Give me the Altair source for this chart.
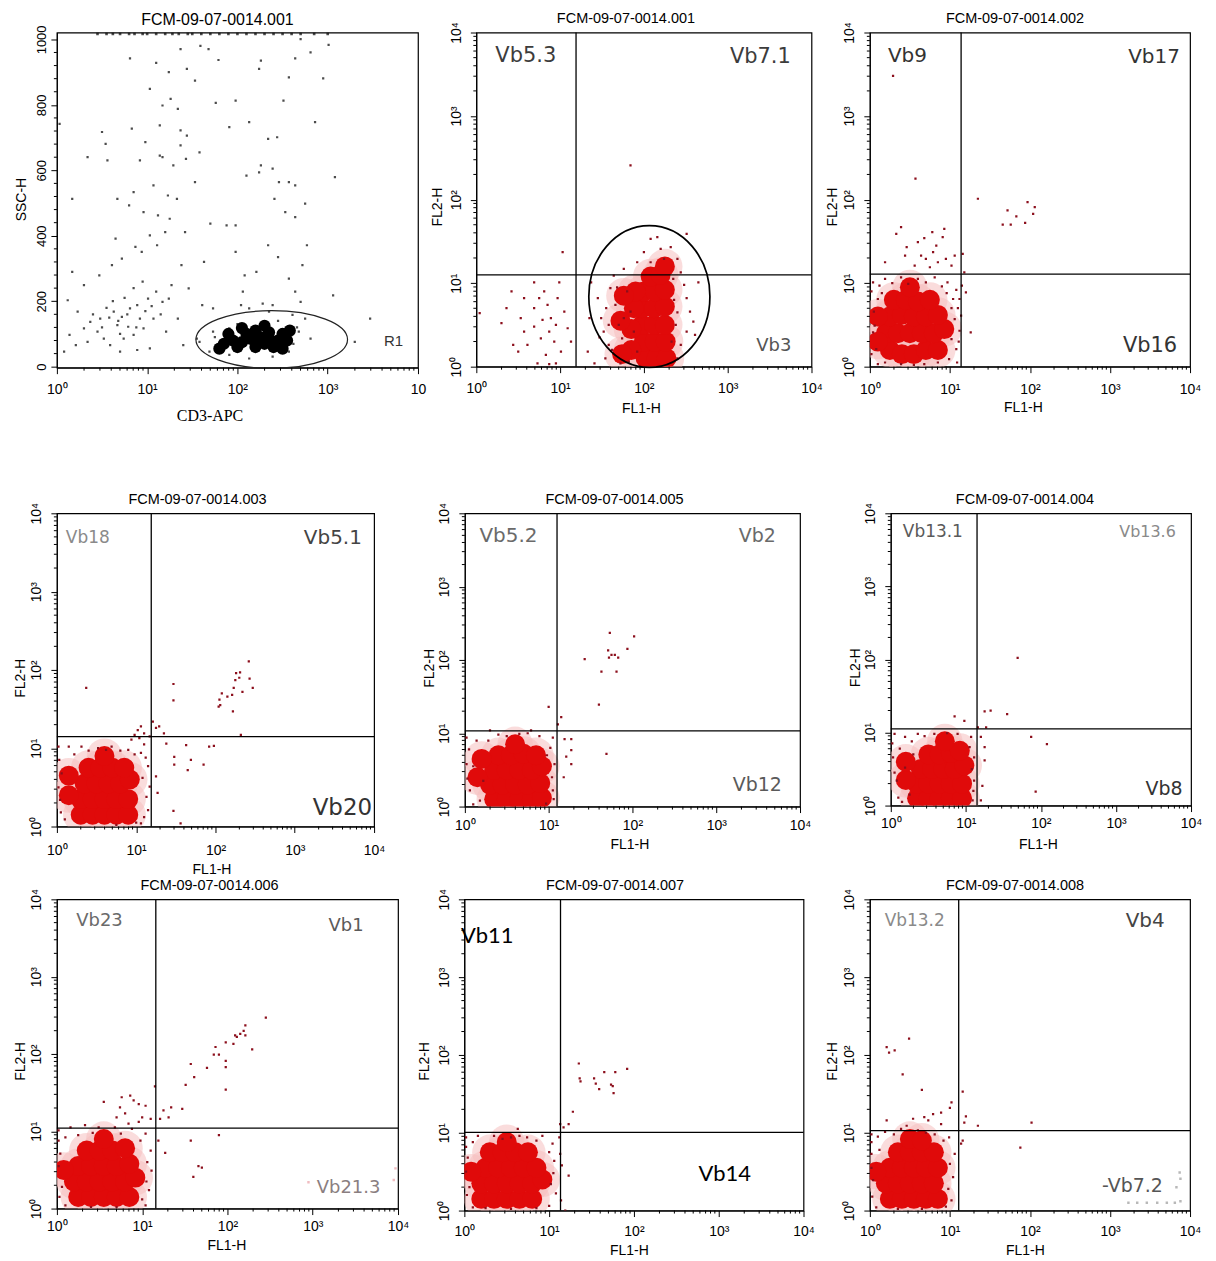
import altair as alt
import pandas as pd

# ------------------------------------------------------------------
# Data.  FL1-H / FL2-H / CD3-APC values are given
# as log10 decades (0 = 10^0 ... 4 = 10^4); SSC-H is linear.
# ------------------------------------------------------------------
TITLES = ["FCM-09-07-0014.001", "FCM-09-07-0014.001", "FCM-09-07-0014.002",
          "FCM-09-07-0014.003", "FCM-09-07-0014.005", "FCM-09-07-0014.004",
          "FCM-09-07-0014.006", "FCM-09-07-0014.007", "FCM-09-07-0014.008"]

# panel 1: (log10 CD3-APC, SSC-H)
P1_DOTS = [(1.68,970),(1.59,980),(1.37,970),(0.81,942),(1.10,928),(1.24,900),(1.44,910),(1.79,937),
           (2.26,935),(2.64,942),(2.81,960),(3.01,983),(2.70,1001),(2.95,881),(2.57,884),(2.24,910),
           (1.53,874),(1.03,849),(1.26,818),(1.17,798),(1.34,788),(1.76,806),(1.98,813),(2.51,813),
           (2.13,747),(1.91,732),(0.83,727),(0.50,717),(0.03,742),(0.54,681),(0.98,686),(1.14,737),
           (1.37,722),(1.44,706),(1.37,676),(1.14,645),(1.17,640),(1.29,615),(1.43,635),(0.92,630),
           (0.56,630),(0.34,640),(1.58,655),(2.26,615),(2.39,605),(2.10,584),(2.24,594),(2.46,564),
           (2.57,564),(2.64,554),(3.08,579),(1.53,564),(1.33,513),(1.23,523),(1.07,554),(0.85,533),
           (0.80,493),(0.67,513),(0.17,513),(0.96,472),(1.12,462),(1.25,452),(1.20,411),(1.03,401),
           (1.11,371),(0.94,351),(0.87,366),(0.72,330),(0.65,391),(0.61,310),(0.47,279),(0.30,249),
           (0.17,290),(0.12,203),(0.23,168),(0.37,137),(0.48,147),(0.63,168),(0.72,152),(0.81,178),
           (0.89,188),(1.01,208),(1.10,229),(1.17,198),(1.24,208),(1.07,147),(0.96,117),(0.85,97),
           (0.74,86),(0.59,66),(0.45,107),(0.30,117),(0.14,97),(0.08,46),(0.21,66),(0.34,76),
           (0.52,86),(0.67,127),(0.79,122),(0.92,147),(1.03,56),(0.70,46),(0.89,51),(1.21,107),
           (1.34,147),(1.40,66),(1.38,310),(1.27,249),(1.46,239),(1.61,188),(1.63,320),(1.73,178),
           (1.98,351),(2.08,279),(2.06,229),(2.21,290),(2.34,371),(2.45,335),(2.57,269),(2.72,310),
           (2.77,371),(2.64,229),(2.70,198),(3.06,218),(3.47,147),(3.30,76),(2.53,472),(2.41,513),
           (2.75,498),(2.64,457),(1.98,432),(1.88,432),(1.70,437),(1.42,411),(2.34,696),(2.44,701),
           (2.86,747),(0.55,180),(0.62,200),(0.75,210),(0.85,240),(0.95,260),(0.40,160),(0.58,150),
           (0.68,140),(0.78,160),(0.98,170),(1.05,185),(0.88,120),(0.50,120),(0.70,100),(1.15,160),
           (1.58,76),(1.69,46),(1.91,36),(2.13,25),(2.39,31),(2.57,46),(2.81,86),(2.75,147),
           (2.61,158),(2.35,168),(2.13,178),(1.91,117),(1.73,107),(1.55,86),(2.68,107),(2.39,188),
           (2.28,193),(2.04,188),(1.80,60),(1.75,90),(2.62,70),(2.66,120),(2.00,130),(2.45,140)]
P1_TOP = [0.45,0.55,0.62,0.70,0.80,0.86,0.95,1.00,1.10,1.20,1.28,1.35,1.45,1.50,1.60,1.70,
          1.80,1.90,2.00,2.10,2.20,2.30,2.40,2.50,2.60,2.70,2.85,3.00]
P1_CORE = [(1.85,70),(1.95,80),(2.05,75),(2.15,85),(2.25,90),(2.35,85),(2.45,80),(2.20,60),
           (2.35,105),(2.10,100),(2.50,100),(2.30,70),(2.00,60),(2.40,60),(2.55,80),(2.20,110),
           (1.90,100),(2.58,110),(2.05,118),(1.80,55),(2.50,55),(2.30,125)]
P1_GATE = (2.38, 83)            # R1 ellipse centre
P1_LABELS = [("R1", 3.73, 79)]

# panels 2-9: (log10 FL1-H, log10 FL2-H)
P2_CORE = [(2.02,0.1),(2.15,0.1),(2.27,0.1),(2.0,0.3),(2.13,0.3),(2.26,0.3),(1.98,0.5),(2.12,0.5),
           (2.25,0.5),(1.98,0.7),(2.12,0.7),(2.25,0.72),(2.0,0.9),(2.13,0.9),(2.25,0.92),(2.08,1.08),
           (2.2,1.1),(2.25,1.2),(1.85,0.2),(1.85,0.45),(1.88,0.7),(1.9,0.9),(1.74,0.15),(1.72,0.55),
           (1.76,0.85)]
P2_DOTS = [(0.36,0.70),(0.53,0.58),(0.57,0.42),(0.69,1.01),(0.75,0.82),(0.81,0.90),(0.85,0.74),
           (0.89,0.58),(0.97,0.82),(0.99,1.01),(1.05,0.66),(1.09,0.46),(0.77,0.34),(0.61,0.26),
           (0.50,0.18),(0.93,0.30),(0.83,0.14),(0.30,0.52),(0.44,0.26),(0.69,0.48),(0.79,0.56),
           (0.87,0.42),(0.95,0.50),(1.01,0.18),(1.13,0.30),(0.57,0.82),(0.42,0.90),(1.03,1.37),
           (0.04,0.64),(0.73,0.04),(0.87,0.03),(0.95,0.04),(0.69,0.70),(1.84,2.41),
           (1.37,1.01),(1.45,0.82),(1.49,0.58),(1.52,0.42),(1.58,0.26),(1.60,0.94),(1.66,0.74),
           (1.70,0.50),(1.74,0.34),(1.64,1.09),(1.76,1.17),(1.80,0.90),(1.84,0.66),(1.88,0.42),
           (1.92,0.18),(1.82,0.06),(1.54,0.10),(1.35,0.58),(1.33,0.18),(1.41,0.04),(1.72,0.04),
           (1.76,0.58),(1.92,1.25),(2.00,1.37),(2.08,1.53),(2.16,1.55),(2.20,1.41),(2.32,1.43),
           (2.40,1.29),(2.44,1.13),(2.51,1.59),(2.08,1.25),(2.24,1.29),(2.48,0.98),(2.51,0.82),
           (2.55,0.66),(2.59,0.54),(2.51,0.42),(2.44,0.26),(2.40,0.10),(2.65,1.01),(2.61,0.38),
           (1.55,0.70),(1.62,0.20),(1.47,0.35),(1.68,0.95),(1.58,0.50),(2.36,0.80),(2.38,0.50),
           (2.35,1.05),(2.40,0.65),(2.33,0.30)]
P2_GATE = (1.19, 1.10)
P2_CIRCLE = (2.065, 0.84)
P2_LABELS = [("Vb5.3", 0.59, 3.72), ("Vb7.1", 3.39, 3.71), ("Vb3", 3.55, 0.25)]

P3_CORE = [(0.25,0.2),(0.4,0.15),(0.55,0.15),(0.7,0.2),(0.85,0.2),(0.2,0.4),(0.35,0.4),(0.5,0.4),
           (0.65,0.4),(0.8,0.4),(0.93,0.45),(0.25,0.6),(0.4,0.62),(0.55,0.6),(0.7,0.6),(0.85,0.62),
           (0.3,0.8),(0.45,0.8),(0.6,0.78),(0.75,0.8),(0.5,0.95),(0.1,0.3),(0.1,0.6)]
P3_DOTS = [(0.29,3.48),(0.57,2.25),(1.35,2.01),(1.66,1.70),(1.76,1.70),(1.83,1.80),(1.72,1.87),
           (1.97,1.97),(1.94,1.72),(2.06,1.91),(2.04,1.83),(0.33,1.59),(0.39,1.67),(0.19,1.25),
           (0.46,1.43),(0.44,1.33),(0.60,1.49),(0.68,1.54),(0.78,1.61),(0.91,1.55),(0.93,1.65),
           (0.64,1.33),(0.70,1.29),(0.79,1.37),(0.85,1.25),(0.95,1.29),(1.02,1.21),(1.06,1.33),
           (0.83,1.45),(0.56,1.21),(0.75,1.19),(1.16,1.35),(1.18,1.13),(1.20,0.89),(1.26,0.41),
           (1.12,0.43),(1.14,0.61),(1.12,0.81),(1.15,0.97),(1.08,0.21),(0.04,1.01),(0.10,0.81),
           (0.06,0.49),(0.08,0.21),(0.19,1.05),(0.39,1.07),(0.60,1.05),(0.81,1.07),(0.97,1.01),
           (1.04,0.81),(1.06,0.57),(1.02,0.33),(0.99,0.09),(0.85,0.05),(0.68,0.03),(0.39,0.03),
           (0.19,0.05),(0.10,0.03),(0.04,0.41),(0.02,0.90),(0.12,0.97),(0.28,1.00),(0.48,0.99),
           (0.70,1.01),(0.90,0.96),(1.08,0.92),(1.10,0.70),(1.11,0.30),(1.09,0.05),(0.55,0.02),
           (0.02,0.15),(0.05,0.66),(0.15,0.88),(0.96,0.88),(1.02,0.70)]
P3_GATE = (1.14, 1.107)
P3_LABELS = [("Vb9", 0.47, 3.72), ("Vb17", 3.55, 3.71), ("Vb16", 3.50, 0.25)]

P4_CORE = [(0.3,0.15),(0.45,0.15),(0.6,0.15),(0.75,0.15),(0.9,0.15),(0.3,0.35),(0.45,0.35),(0.6,0.35),
           (0.75,0.35),(0.9,0.35),(0.35,0.55),(0.5,0.55),(0.65,0.55),(0.8,0.55),(0.92,0.6),(0.4,0.75),
           (0.55,0.75),(0.7,0.75),(0.85,0.75),(0.6,0.9),(0.15,0.4),(0.15,0.65)]
P4_DOTS = [(0.37,1.77),(1.47,1.82),(1.47,1.61),(1.21,1.34),(1.25,1.26),(1.29,1.28),(1.35,1.19),
           (1.38,1.06),(1.48,0.89),(1.48,0.79),(1.63,1.04),(1.65,0.72),(1.69,0.85),(1.85,0.79),
           (1.92,1.02),(1.98,1.03),(1.47,0.20),(1.56,0.04),(1.27,0.43),(1.25,0.64),(2.05,1.62),
           (2.08,1.70),(2.15,1.66),(2.21,1.68),(2.23,1.77),(2.25,1.87),(2.26,1.96),(2.30,1.90),
           (2.31,1.97),(2.34,1.72),(2.42,2.11),(2.43,1.89),(2.47,1.77),(2.22,1.47),(2.32,1.17),
           (2.06,1.55),(2.04,1.53),(0.98,1.17),(1.02,1.23),(1.06,1.28),(1.10,1.19),(1.17,1.15),
           (1.04,1.13),(0.94,1.11),(0.02,1.02),(0.15,1.02),(0.31,1.02),(0.52,1.00),(0.69,1.02),
           (0.90,0.98),(1.06,0.94),(1.15,0.77),(1.17,0.51),(1.15,0.21),(1.06,0.04),(0.06,0.68),
           (0.04,0.34),(0.10,0.09),(1.10,1.05),(1.12,0.88),(1.08,0.62),(1.13,0.38),(1.10,0.12),
           (0.98,0.92),(0.22,0.92),(0.40,0.97),(0.62,0.98),(0.80,0.97),(0.03,0.85),(0.02,0.50),
           (0.05,0.18),(1.00,0.05),(0.75,0.02)]
P4_GATE = (1.19, 1.149)
P4_LABELS = [("Vb18", 0.39, 3.69), ("Vb5.1", 3.48, 3.68), ("Vb20", 3.60, 0.23)]

P5_CORE = [(0.35,0.1),(0.5,0.1),(0.65,0.1),(0.8,0.1),(0.92,0.12),(0.3,0.3),(0.45,0.3),(0.6,0.3),
           (0.75,0.3),(0.9,0.32),(0.35,0.5),(0.5,0.5),(0.65,0.5),(0.8,0.5),(0.92,0.55),(0.4,0.7),
           (0.55,0.7),(0.7,0.72),(0.85,0.7),(0.6,0.85),(0.15,0.4),(0.2,0.65)]
P5_DOTS = [(1.73,2.37),(2.02,2.32),(1.43,2.01),(1.71,2.13),(1.75,2.07),(1.79,2.07),(1.83,2.03),
           (1.72,2.03),(1.94,2.15),(1.63,1.84),(1.81,1.84),(1.60,1.39),(1.00,1.36),(1.15,1.22),
           (1.11,1.12),(1.19,0.92),(1.27,0.92),(1.27,0.77),(1.27,0.58),(1.18,0.40),(1.21,0.68),
           (1.69,0.72),(0.30,1.04),(0.79,1.04),(0.02,0.94),(0.14,0.90),(0.02,0.58),(0.06,0.22),
           (0.18,0.08),(1.05,0.94),(1.07,0.58),(1.05,0.22),(0.97,0.04),(0.50,0.96),(0.65,0.99),
           (0.89,0.96),(0.22,0.35),(1.02,0.80),(1.04,0.40),(1.06,0.10),(0.40,0.98),(0.75,1.00),
           (0.05,0.78),(0.03,0.38),(0.10,0.03),(0.98,0.70),(0.28,0.90),(0.10,0.55)]
P5_GATE = (1.10, 1.033)
P5_LABELS = [("Vb5.2", 0.52, 3.69), ("Vb2", 3.49, 3.69), ("Vb12", 3.49, 0.29)]

P6_CORE = [(0.35,0.1),(0.5,0.1),(0.65,0.1),(0.8,0.1),(0.95,0.1),(0.35,0.3),(0.5,0.3),(0.65,0.3),
           (0.8,0.3),(0.95,0.3),(0.4,0.5),(0.55,0.5),(0.7,0.5),(0.85,0.5),(0.98,0.55),(0.5,0.7),
           (0.65,0.7),(0.8,0.72),(0.92,0.75),(0.72,0.88),(0.2,0.35),(0.2,0.6)]
P6_DOTS = [(1.69,2.02),(1.25,1.29),(1.33,1.30),(1.55,1.25),(0.85,1.22),(0.98,1.16),(1.27,1.07),
           (1.16,1.07),(1.87,0.94),(2.08,0.84),(1.93,0.19),(1.20,0.94),(1.25,0.80),(1.25,0.62),
           (1.22,0.27),(1.20,0.07),(0.05,0.98),(0.19,0.94),(0.36,0.98),(0.58,0.98),(0.89,0.98),
           (1.07,0.94),(1.11,0.66),(1.11,0.34),(1.09,0.07),(0.03,0.66),(0.08,0.34),(0.10,0.11),
           (0.19,0.52),(0.02,0.85),(0.12,0.78),(0.28,0.88),(0.45,0.95),(0.75,0.99),(1.05,0.80),
           (1.08,0.50),(1.10,0.20),(0.15,0.05),(0.25,0.15),(0.05,0.45),(0.30,0.70)]
P6_GATE = (1.149, 1.05)
P6_LABELS = [("Vb13.1", 0.56, 3.75), ("Vb13.6", 3.42, 3.75), ("Vb8", 3.64, 0.23)]

P7_CORE = [(0.25,0.15),(0.4,0.15),(0.55,0.15),(0.7,0.15),(0.85,0.15),(0.2,0.35),(0.35,0.35),(0.5,0.35),
           (0.65,0.35),(0.8,0.35),(0.92,0.4),(0.25,0.55),(0.4,0.55),(0.55,0.55),(0.7,0.55),(0.85,0.58),
           (0.35,0.75),(0.5,0.75),(0.65,0.75),(0.8,0.78),(0.55,0.9),(0.08,0.5)]
P7_DOTS = [(2.45,2.47),(2.21,2.37),(2.19,2.30),(2.15,2.26),(2.09,2.24),(2.07,2.13),(2.11,2.22),
           (2.29,2.06),(2.21,2.24),(1.98,2.15),(1.86,2.09),(1.84,1.99),(1.90,1.99),(1.98,1.91),
           (1.98,1.83),(1.76,1.82),(1.57,1.87),(1.61,1.70),(1.51,1.60),(1.98,1.54),(1.47,1.29),
           (1.34,1.31),(1.25,1.27),(1.15,1.58),(1.31,1.18),(1.21,1.16),(0.55,1.38),(0.74,1.31),
           (0.76,1.44),(0.86,1.46),(0.90,1.40),(0.96,1.35),(1.04,1.33),(0.80,1.23),(0.70,1.18),
           (1.00,1.18),(1.10,1.16),(0.96,1.12),(0.84,1.10),(1.57,0.88),(1.90,0.95),(1.27,0.72),
           (1.60,0.41),(1.66,0.55),(1.70,0.53),(1.19,0.88),(0.02,1.01),(0.16,1.05),(0.33,1.08),
           (0.49,1.05),(0.68,1.05),(0.88,1.03),(1.04,0.97),(1.10,0.75),(1.11,0.49),(1.08,0.24),
           (1.04,0.04),(0.04,0.71),(0.06,0.28),(0.10,0.04),(0.02,0.88),(0.10,0.92),(0.25,0.95),
           (0.42,0.98),(0.75,0.97),(0.98,0.88),(1.06,0.60),(1.05,0.35),(1.00,0.12),(0.70,0.02),
           (0.40,0.02),(0.03,0.15),(0.02,0.55)]
P7_FAINT = [(2.95,0.34),(3.95,0.37),(3.97,0.52)]
P7_GATE = (1.16, 1.04)
P7_LABELS = [("Vb23", 0.50, 3.72), ("Vb1", 3.39, 3.65), ("Vb21.3", 3.42, 0.27)]

P8_CORE = [(0.2,0.15),(0.35,0.15),(0.5,0.15),(0.65,0.15),(0.8,0.15),(0.2,0.35),(0.35,0.35),(0.5,0.35),
           (0.65,0.35),(0.8,0.35),(0.92,0.4),(0.25,0.55),(0.4,0.55),(0.55,0.55),(0.7,0.55),(0.85,0.55),
           (0.3,0.75),(0.45,0.75),(0.6,0.75),(0.75,0.75),(0.5,0.88),(0.08,0.5)]
P8_DOTS = [(1.35,1.89),(1.36,1.70),(1.37,1.66),(1.53,1.70),(1.55,1.63),(1.59,1.56),(1.65,1.78),
           (1.73,1.62),(1.75,1.60),(1.78,1.78),(1.76,1.51),(1.92,1.82),(1.28,1.27),(1.23,1.11),
           (1.13,1.11),(1.17,1.07),(0.63,1.05),(1.15,0.58),(1.23,0.45),(1.19,0.0),(0.02,0.94),
           (0.16,0.96),(0.35,0.96),(0.55,0.94),(0.74,0.94),(0.92,0.96),(1.04,0.86),(1.06,0.64),
           (1.02,0.34),(1.00,0.06),(0.04,0.68),(0.06,0.30),(0.10,0.04),(1.12,0.94),(1.13,0.73),
           (1.14,0.13),(0.02,0.82),(0.10,0.88),(0.45,0.92),(0.65,0.96),(0.85,0.90),(1.00,0.75),
           (1.05,0.48),(1.08,0.22),(0.85,0.03),(0.55,0.02),(0.25,0.03),(0.03,0.20),(0.02,0.50)]
P8_GATE = (1.134, 1.005)
P8_LABELS = [("Vb11", 0.27, 3.53), ("Vb14", 3.07, 0.47)]

P9_CORE = [(0.25,0.15),(0.4,0.15),(0.55,0.15),(0.7,0.15),(0.85,0.15),(0.2,0.35),(0.35,0.35),(0.5,0.35),
           (0.65,0.35),(0.8,0.35),(0.25,0.55),(0.4,0.55),(0.55,0.55),(0.7,0.55),(0.85,0.55),(0.35,0.75),
           (0.5,0.75),(0.65,0.75),(0.8,0.75),(0.5,0.92),(0.65,0.9),(0.08,0.5)]
P9_DOTS = [(0.49,2.21),(0.21,2.10),(0.24,2.03),(0.31,2.06),(0.41,1.75),(0.65,1.55),(1.16,1.53),
           (1.02,1.39),(1.00,1.32),(0.89,1.26),(0.79,1.24),(0.68,1.20),(0.54,1.18),(0.21,1.16),
           (1.20,1.21),(1.35,1.09),(1.18,1.13),(2.02,1.13),(1.88,0.81),(1.14,0.86),(1.16,0.90),
           (0.46,1.09),(0.73,1.16),(0.89,1.11),(0.02,0.98),(0.19,1.01),(0.39,1.05),(0.60,1.03),
           (0.81,0.98),(0.99,0.94),(1.06,0.73),(1.04,0.43),(1.02,0.13),(0.02,0.73),(0.04,0.39),
           (0.08,0.04),(0.02,0.88),(0.10,0.95),(0.30,0.98),(0.70,1.00),(0.92,0.90),(1.00,0.60),
           (0.98,0.28),(0.95,0.05),(0.65,0.02),(0.35,0.02),(0.03,0.18),(0.02,0.55),(0.12,0.78)]
P9_FAINT = [(3.87,0.49),(3.88,0.41),(3.83,0.30),(3.88,0.12),(3.23,0.10),(3.34,0.10),(3.46,0.10),
            (3.59,0.10),(3.71,0.10),(3.81,0.10)]
P9_GATE = (1.11, 1.027)
P9_LABELS = [("Vb13.2", 0.56, 3.72), ("Vb4", 3.44, 3.72), ("-Vb7.2", 3.28, 0.32)]

# axis tick positions
LOG_MAJOR = [1, 10, 100, 1000, 10000]
LOG_MINOR = [m * 10 ** k for k in range(4) for m in range(2, 10)]
SSC_MAJOR = [0, 200, 400, 600, 800, 1000]
SSC_MINOR = [v for v in range(40, 1000, 40) if v % 200]

# ------------------------------------------------------------------
# styles
# ------------------------------------------------------------------
SANS = "Liberation Sans"
LAB = "DejaVu Sans"
HALO = "#f5c0c0"
CORE = "#e00a0a"
DOT = "#8c0f1c"

SUP = ("datum.value == 1 ? '10\u2070' : datum.value == 10 ? '10\u00b9' : "
       "datum.value == 100 ? '10\u00b2' : datum.value == 1000 ? '10\u00b3' : '10\u2074'")
SUP_P1 = SUP.replace("'10\u2074'", "'10'")

LABEL_STYLE = {
    1: [dict(fontSize=15, color="#333333", font=SANS)],
    2: [dict(fontSize=21, color="#3c3c3c"), dict(fontSize=21, color="#3c3c3c"), dict(fontSize=18, color="#555555")],
    3: [dict(fontSize=20, color="#333333"), dict(fontSize=20, color="#333333"), dict(fontSize=21, color="#333333")],
    4: [dict(fontSize=17, color="#8a8a8a"), dict(fontSize=20, color="#444444"), dict(fontSize=23, color="#333333")],
    5: [dict(fontSize=20, color="#6a6a6a"), dict(fontSize=19, color="#6a6a6a"), dict(fontSize=19, color="#5a5a5a")],
    6: [dict(fontSize=17, color="#5a5a5a"), dict(fontSize=16, color="#8a8a8a"), dict(fontSize=19, color="#333333")],
    7: [dict(fontSize=18, color="#6a6a6a"), dict(fontSize=18, color="#5a5a5a"), dict(fontSize=18, color="#8a7e80")],
    8: [dict(fontSize=22, color="#000000", font="Lato"), dict(fontSize=22, color="#000000", font="Lato")],
    9: [dict(fontSize=17, color="#8a8a8a"), dict(fontSize=20, color="#444444"), dict(fontSize=19, color="#555555")],
}


def ellipse_path(rx, ry):
    k = 0.5523
    return (f"M{-rx},0C{-rx},{-k*ry},{-k*rx},{-ry},0,{-ry}"
            f"C{k*rx},{-ry},{rx},{-k*ry},{rx},0"
            f"C{rx},{k*ry},{k*rx},{ry},0,{ry}"
            f"C{-k*rx},{ry},{-rx},{k*ry},{-rx},0Z")


def pairs_df(pairs, ylog=True):
    return pd.DataFrame({"x": [10 ** a for a, b in pairs],
                         "y": [10 ** b if ylog else b for a, b in pairs]})


class Panel:
    """Shared scales and axes of one panel; every layer gets the same axis spec."""

    def __init__(self, xs, ys, xa, ya):
        self.xs, self.ys, self.xa, self.ya = xs, ys, xa, ya

    def X(self, field="x:Q"):
        return alt.X(field, scale=self.xs, axis=self.xa)

    def Y(self, field="y:Q"):
        return alt.Y(field, scale=self.ys, axis=self.ya)


def text_layers(P, n, labels, ylog=True):
    out = []
    for (t, a, b), st in zip(labels, LABEL_STYLE[n]):
        df = pd.DataFrame({"x": [10 ** a], "y": [10 ** b if ylog else b], "t": [t]})
        out.append(alt.Chart(df).mark_text(font=st.get("font", LAB), fontSize=st["fontSize"],
                                           color=st["color"], align="center", baseline="middle")
                   .encode(x=P.X(), y=P.Y(), text="t:N"))
    return out


def minor_ticks(P, xvals, yvals, h):
    xdf = pd.DataFrame({"v": xvals})
    ydf = pd.DataFrame({"v": yvals})
    return [
        alt.Chart(xdf).mark_rule(color="black", strokeWidth=1)
        .encode(x=P.X("v:Q"), y=alt.value(h), y2=alt.value(h + 3)),
        alt.Chart(ydf).mark_rule(color="black", strokeWidth=1)
        .encode(y=P.Y("v:Q"), x=alt.value(0), x2=alt.value(-3)),
    ]


def x_axis(label_pad, title, title_x, title_y, expr=SUP, title_font=SANS, title_size=14):
    return alt.Axis(values=LOG_MAJOR, labelExpr=expr, tickSize=6, labelFont=SANS,
                    labelFontSize=14, labelColor="black", labelPadding=label_pad, labelFlush=False,
                    labelOverlap=False, labelBaseline="middle", grid=False, domainColor="black",
                    tickColor="black", title=title, titleFont=title_font, titleFontSize=title_size,
                    titleFontWeight="normal", titleColor="black", titleX=title_x, titleY=title_y,
                    titleBaseline="middle", titleAlign="center")


def y_axis(values, expr, label_pad, title, title_x, title_y, label_size=14):
    return alt.Axis(values=values, labelExpr=expr, tickSize=6, labelFont=SANS, labelFontSize=label_size,
                    labelColor="black", labelPadding=label_pad, labelFlush=False, labelOverlap=False,
                    labelAngle=270, labelAlign="center", labelBaseline="middle", grid=False,
                    domainColor="black", tickColor="black", title=title, titleFont=SANS,
                    titleFontSize=14, titleFontWeight="normal", titleColor="black", titleAngle=270,
                    titleX=title_x, titleY=title_y, titleBaseline="middle", titleAlign="center")


def title_params(text, dx, size=14.5, offset=-5):
    return alt.TitleParams(text=text, font=SANS, fontSize=size, fontWeight="normal", color="black",
                           anchor="middle", frame="group", dx=dx, offset=offset)


def log_panel(n, w, h, core, dots, gate, labels, geo, faint=None, faint_color="#e9a0a6", circle=None):
    xlab_pad, xtitle_dx, xtitle_y, ytitle_x, ytitle_dy, title_dx = geo
    xs = alt.Scale(type="log", domain=[1, 10000], nice=False)
    ys = alt.Scale(type="log", domain=[1, 10000], nice=False)
    P = Panel(xs, ys, x_axis(xlab_pad, "FL1-H", w / 2 + xtitle_dx, xtitle_y),
              y_axis(LOG_MAJOR, SUP, 14, "FL2-H", ytitle_x, h / 2 + ytitle_dy))
    cdf = pairs_df(core)
    layers = [
        alt.Chart(cdf).mark_circle(size=1250, color=HALO, opacity=0.55, clip=True).encode(x=P.X(), y=P.Y()),
        alt.Chart(cdf).mark_circle(size=400, color=CORE, opacity=1, clip=True).encode(x=P.X(), y=P.Y()),
        alt.Chart(pairs_df(dots)).mark_square(size=5, color=DOT, opacity=1, clip=True)
        .encode(x=P.X(), y=P.Y()),
    ]
    if faint:
        layers.append(alt.Chart(pairs_df(faint)).mark_square(size=6, color=faint_color, clip=True)
                      .encode(x=P.X(), y=P.Y()))
    vdf = pd.DataFrame({"x": [10 ** gate[0]], "y": [1], "y2": [10000]})
    hdf = pd.DataFrame({"y": [10 ** gate[1]], "x": [1], "x2": [10000]})
    layers.append(alt.Chart(vdf).mark_rule(color="black", strokeWidth=1.3)
                  .encode(x=P.X(), y=P.Y(), y2="y2:Q"))
    layers.append(alt.Chart(hdf).mark_rule(color="black", strokeWidth=1.3)
                  .encode(y=P.Y(), x=P.X(), x2="x2:Q"))
    if circle:
        layers.append(alt.Chart(pairs_df([circle])).mark_point(
            shape=ellipse_path(0.855, 1.0), size=142 ** 2, filled=False, color="black",
            strokeWidth=1.7, opacity=1).encode(x=P.X(), y=P.Y()))
    layers += minor_ticks(P, LOG_MINOR, LOG_MINOR, h)
    layers += text_layers(P, n, labels)
    return alt.layer(*layers).properties(width=w, height=h, title=title_params(TITLES[n - 1], title_dx))


def ssc_panel(w, h):
    xs = alt.Scale(type="log", domain=[1, 10000], nice=False)
    ys = alt.Scale(type="linear", domain=[-3, 1021], nice=False, zero=False)
    P = Panel(xs, ys,
              x_axis(16, "CD3-APC", 153, 48, expr=SUP_P1, title_font="Liberation Serif", title_size=16),
              y_axis(SSC_MAJOR, "'' + datum.value", 9, "SSC-H", -35, 167, label_size=13))
    top_df = pd.DataFrame({"x": [10 ** a for a in P1_TOP], "y": [1017] * len(P1_TOP)})
    layers = [
        alt.Chart(pairs_df(P1_CORE, ylog=False)).mark_circle(size=150, color="black", opacity=1, clip=True)
        .encode(x=P.X(), y=P.Y()),
        alt.Chart(pairs_df(P1_DOTS, ylog=False)).mark_square(size=5, color="black", clip=True)
        .encode(x=P.X(), y=P.Y()),
        alt.Chart(top_df).mark_square(size=7, color="black", clip=True).encode(x=P.X(), y=P.Y()),
        alt.Chart(pairs_df([P1_GATE], ylog=False)).mark_point(
            shape=ellipse_path(1.0, 0.38), size=152 ** 2, filled=False, color="#222222",
            strokeWidth=1.2, opacity=1).encode(x=P.X(), y=P.Y()),
    ]
    layers += minor_ticks(P, LOG_MINOR, SSC_MINOR, h)
    layers += text_layers(P, 1, P1_LABELS, ylog=False)
    return alt.layer(*layers).properties(width=w, height=h,
                                         title=title_params(TITLES[0], -20, 16, offset=-3))


# geometry: (x-label padding, x-title dx, x-title y, y-title x, y-title dy, title dx)
p1 = ssc_panel(362, 336)
p2 = log_panel(2, 336, 335, P2_CORE, P2_DOTS, P2_GATE, P2_LABELS, (16, -3, 42, -39, 7, -18), circle=P2_CIRCLE)
p3 = log_panel(3, 321, 335, P3_CORE, P3_DOTS, P3_GATE, P3_LABELS, (17, -7, 41, -37, 7, -15))
p4 = log_panel(4, 318, 314, P4_CORE, P4_DOTS, P4_GATE, P4_LABELS, (18, -4, 43, -36, 8, -18))
p5 = log_panel(5, 336, 294, P5_CORE, P5_DOTS, P5_GATE, P5_LABELS, (13, -3, 38, -35, 8, -18))
p6 = log_panel(6, 301, 293, P6_CORE, P6_DOTS, P6_GATE, P6_LABELS, (12, -3, 39, -35, 8, -16))
p7 = log_panel(7, 342, 310, P7_CORE, P7_DOTS, P7_GATE, P7_LABELS, (12, -1, 37, -36, 7, -18),
               faint=P7_FAINT)
p8 = log_panel(8, 340, 312, P8_CORE, P8_DOTS, P8_GATE, P8_LABELS, (15, -5, 40, -40, 6, -19))
p9 = log_panel(9, 321, 312, P9_CORE, P9_DOTS, P9_GATE, P9_LABELS, (15, -5, 40, -37, 6, -15),
               faint=P9_FAINT, faint_color="#9a9a9a")

row1 = alt.hconcat(p1, p2, p3, spacing=58.5, bounds="flush")
row2 = alt.hconcat(p4, p5, p6, spacing=91, bounds="flush")
row3 = alt.hconcat(p7, p8, p9, spacing=66.5, bounds="flush")

chart = (alt.vconcat(alt.vconcat(row1, row2, spacing=67), row3, spacing=0)
         .properties(padding={"left": 5, "top": 1, "right": 5, "bottom": 2}, background="white")
         .configure_view(stroke="black", strokeWidth=1.2))

chart.save("out.html", embed_options={"renderer": "svg", "actions": False})
